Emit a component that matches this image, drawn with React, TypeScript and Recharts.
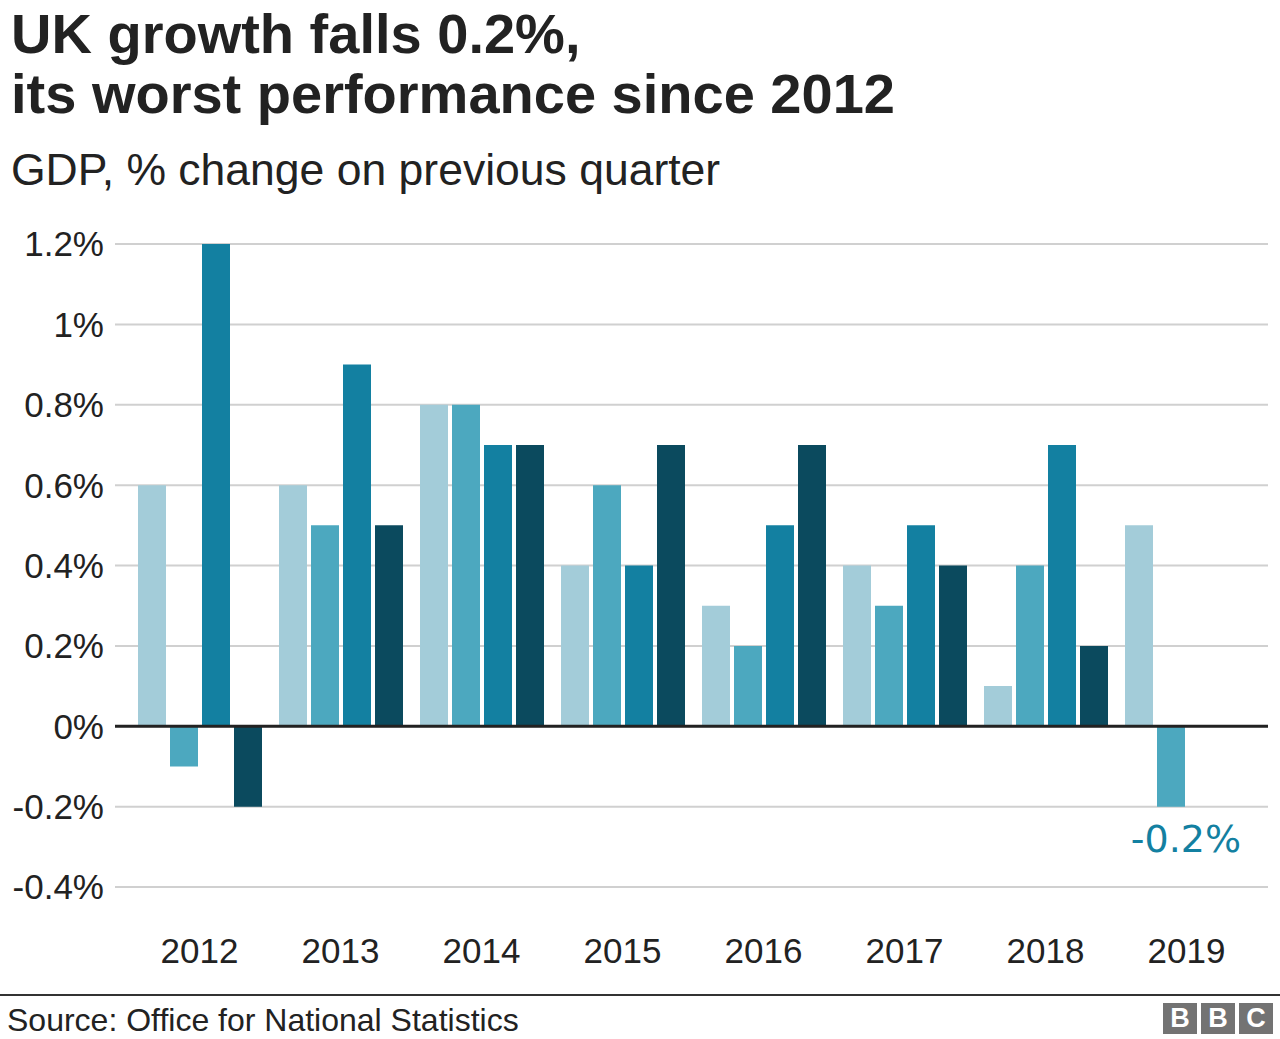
import React from 'react';
import { BarChart, Bar, XAxis, YAxis, CartesianGrid, ReferenceLine, LabelList } from 'recharts';

// GDP, % change on previous quarter, by year and quarter
const years = ['2012', '2013', '2014', '2015', '2016', '2017', '2018', '2019'];
const q1 = [0.6, 0.6, 0.8, 0.4, 0.3, 0.4, 0.1, 0.5];
const q2 = [-0.1, 0.5, 0.8, 0.6, 0.2, 0.3, 0.4, -0.2];
const q3 = [1.2, 0.9, 0.7, 0.4, 0.5, 0.5, 0.7, null];
const q4 = [-0.2, 0.5, 0.7, 0.7, 0.7, 0.4, 0.2, null];
const yTicks = [-0.4, -0.2, 0, 0.2, 0.4, 0.6, 0.8, 1, 1.2];

const colors = ['#a3ccd9', '#4ca8bf', '#1380a1', '#0b4a5e'];
const FONT = '"Liberation Sans", Arial, Helvetica, sans-serif';

const data = years.map((year, i) => ({ year, q1: q1[i], q2: q2[i], q3: q3[i], q4: q4[i] }));
const lastIndex = years.length - 1;

const fmt = (v: number) => `${+v.toFixed(1)}%`;

// only the latest quarter gets a value label
const LatestLabel = (props: any) => {
  const { x, y, width, height, value, index } = props;
  if (index !== lastIndex || value == null) return null;
  const bottom = Math.max(y, y + height);
  return (
    <text
      x={x + width + 1}
      y={bottom + 45}
      textAnchor="middle"
      fill="#1380a1"
      fontSize={38}
      fontFamily='"DejaVu Sans", sans-serif'
    >
      {fmt(value)}
    </text>
  );
};

export default function App() {
  return (
    <div style={{ position: 'relative', width: 1280, height: 1039, background: '#fff', fontFamily: FONT, color: '#222' }}>
      <style>{'body{margin:0}'}</style>
      <div style={{ position: 'absolute', left: 11, top: 0, fontSize: 56, fontWeight: 700, lineHeight: '60px', paddingTop: 4 }}>
        UK growth falls 0.2%,<br />its worst performance since 2012
      </div>
      <div style={{ position: 'absolute', left: 11, top: 142, fontSize: 44.5, lineHeight: '56px' }}>
        GDP, % change on previous quarter
      </div>

      <div style={{ position: 'absolute', left: 0, top: 0 }}>
        <BarChart
          width={1280}
          height={1039}
          data={data}
          margin={{ top: 244, right: 12, bottom: 92, left: 0 }}
          barSize={28}
          barGap={4}
        >
          <CartesianGrid vertical={false} stroke="#d0d0d0" strokeWidth={2} />
          <XAxis
            dataKey="year"
            axisLine={false}
            tickLine={false}
            tickSize={0}
            tickMargin={51}
            height={60}
            padding={{ left: 14, right: 11 }}
            tick={{ fill: '#222', fontSize: 35, fontFamily: FONT }}
          />
          <YAxis
            width={115}
            domain={[-0.4, 1.2]}
            ticks={yTicks}
            interval={0}
            axisLine={false}
            tickLine={false}
            tickSize={0}
            tickMargin={11}
            tickFormatter={fmt}
            tick={{ fill: '#222', fontSize: 35, fontFamily: FONT }}
          />
          <Bar dataKey="q1" fill={colors[0]} isAnimationActive={false} />
          <Bar dataKey="q2" fill={colors[1]} isAnimationActive={false}>
            <LabelList dataKey="q2" content={LatestLabel} />
          </Bar>
          <Bar dataKey="q3" fill={colors[2]} isAnimationActive={false} />
          <Bar dataKey="q4" fill={colors[3]} isAnimationActive={false} />
          <ReferenceLine y={0} stroke="#222" strokeWidth={3} />
        </BarChart>
      </div>

      <div style={{ position: 'absolute', left: 0, top: 994, width: 1280, height: 2, background: '#333' }} />
      <div style={{ position: 'absolute', left: 7, top: 1000, fontSize: 32, lineHeight: '40px' }}>
        Source: Office for National Statistics
      </div>
      <div style={{ position: 'absolute', left: 1163, top: 1003, display: 'flex', gap: 4 }}>
        {['B', 'B', 'C'].map((ch, i) => (
          <div
            key={i}
            style={{
              width: 34,
              height: 31,
              background: '#737373',
              color: '#fff',
              fontWeight: 700,
              fontSize: 27,
              lineHeight: '31px',
              textAlign: 'center',
            }}
          >
            {ch}
          </div>
        ))}
      </div>
    </div>
  );
}
